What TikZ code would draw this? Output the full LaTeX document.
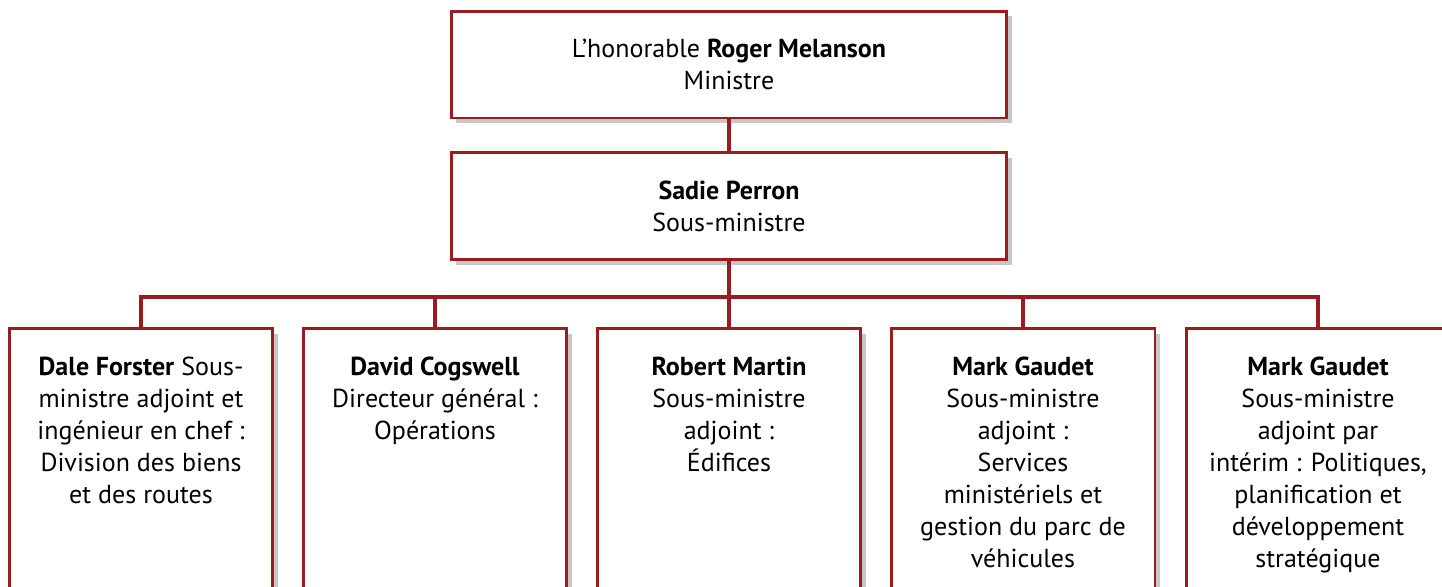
\documentclass[tikz,border=0pt]{standalone}
\usepackage{fontspec}
\setmainfont{PT Sans}
\usetikzlibrary{shadows}

\definecolor{boxred}{HTML}{9A1C20}

\tikzset{
  orgbox/.style={draw=boxred, line width=1.7pt, fill=white, inner sep=0pt,
    drop shadow={shadow xshift=3pt, shadow yshift=-3pt, opacity=.22, fill=black}},
  orgtext/.style={align=center, inner sep=0pt, anchor=north,
    font=\fontsize{14.8}{18.2}\selectfont},
  link/.style={draw=boxred, line width=2.8pt}
}

\begin{document}
\begin{tikzpicture}[x=0.02cm,y=-0.02cm]
\useasboundingbox (0,0) rectangle (1442,586);
\clip (0,0) rectangle (1442,586);

% top two levels
\begin{scope}[every node/.style={orgbox, minimum width=11.12cm, minimum height=2.14cm,
              align=center, font=\fontsize{14.8}{18.2}\selectfont}]
    \node (minister) at (729,64.5) {L’honorable \textbf{Roger Melanson}\\Ministre};
    \node (deputy) at (729,206) {\textbf{Sadie Perron}\\Sous-ministre};
\end{scope}

% assistant deputies
\begin{scope}[every node/.style={orgbox, minimum width=5.28cm, minimum height=6cm, anchor=north}]
    \node (forster) at (141,327) {};
    \node (cogswell) at (435,327) {};
    \node (martin) at (729,327) {};
    \node (gaudetA) at (1023,327) {};
    \node (gaudetB) at (1318,327) {};
\end{scope}

\node[orgtext] (forster-t) at ([yshift=-0.6cm]forster.north)
    {\textbf{Dale Forster} Sous-\\ministre adjoint et\\ingénieur en chef :\\Division des biens\\et des routes};
\node[orgtext] (cogswell-t) at ([yshift=-0.6cm]cogswell.north)
    {\textbf{David Cogswell}\\Directeur général :\\Opérations};
\node[orgtext] (martin-t) at ([yshift=-0.6cm]martin.north)
    {\textbf{Robert Martin}\\Sous-ministre\\adjoint :\\Édifices};
\node[orgtext] (gaudetA-t) at ([yshift=-0.6cm]gaudetA.north)
    {\textbf{Mark Gaudet}\\Sous-ministre\\adjoint :\\Services\\ministériels et\\gestion du parc de\\véhicules};
\node[orgtext] (gaudetB-t) at ([yshift=-0.6cm]gaudetB.north)
    {\textbf{Mark Gaudet}\\Sous-ministre\\adjoint par\\intérim : Politiques,\\planification et\\développement\\stratégique};

% connectors
\coordinate (bar) at (729,297);
\path[link] (minister.south) -- (deputy.north);
\path[link] (deputy.south) -- (bar);
\path[link] (forster.north) |- (bar) -| (gaudetB.north);
\path[link] (cogswell.north) -- (cogswell.north |- bar);
\path[link] (martin.north) -- (bar);
\path[link] (gaudetA.north) -- (gaudetA.north |- bar);
\end{tikzpicture}
\end{document}
